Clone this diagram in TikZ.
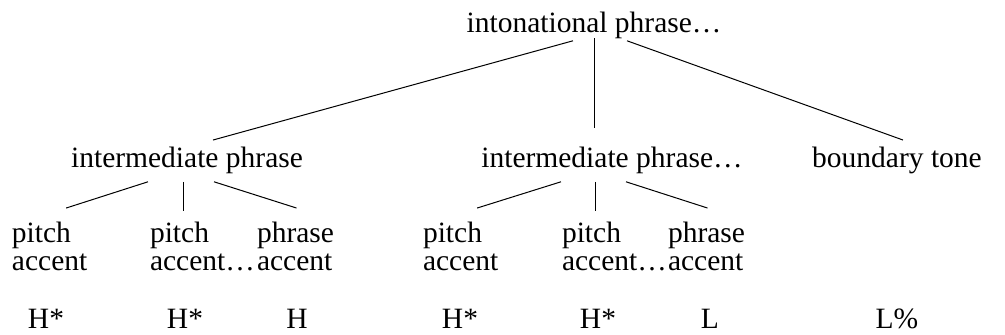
\documentclass[tikz,border=0pt]{standalone}
\usepackage{fontspec}
\setmainfont{Liberation Serif}
\usetikzlibrary{calc}
\begin{document}
\begin{tikzpicture}[x=1pt,y=-1pt,
  lbl/.style={inner sep=0pt,outer sep=0pt,font=\fontsize{29.5}{28}\selectfont},
  two/.style={lbl,align=left,anchor=base west},
  edge/.style={line width=1.0pt}]
\useasboundingbox (0,0) rectangle (1005,335);
% top
\node[lbl,anchor=base] (top) at (594,32) {intonational phrase…};
% second level
\node[lbl,anchor=base] (ipA) at (187,167) {intermediate phrase};
\node[lbl,anchor=base] (ipB) at (612,167) {intermediate phrase…};
\node[lbl,anchor=base] (bt) at (897,167) {boundary tone};
% third level (base = baseline of last line)
\node[two] (pa1) at (12,270) {pitch\\accent};
\node[two] (pa2) at (150,270) {pitch\\accent…};
\node[two] (phA) at (257,270) {phrase\\accent};
\node[two] (pb1) at (423,270) {pitch\\accent};
\node[two] (pb2) at (562,270) {pitch\\accent…};
\node[two] (phB) at (668,270) {phrase\\accent};
% tones
\node[lbl,anchor=base] (t1) at (46,328) {H*};
\node[lbl,anchor=base] (t2) at (185,328) {H*};
\node[lbl,anchor=base] (t3) at (297,328) {H};
\node[lbl,anchor=base] (t4) at (460,328) {H*};
\node[lbl,anchor=base] (t5) at (598,328) {H*};
\node[lbl,anchor=base] (t6) at (710,328) {L};
\node[lbl,anchor=base] (t7) at (897,328) {L\%};
% connector start points
\coordinate (mA) at ($(ipA.south)+(-4,8.5)$);
\coordinate (mB) at ($(ipB.south)+(-17,8.5)$);
\coordinate (mT) at (top.south);
% connectors
\draw[edge] ($(top.south)+(-21,2.5)$) -- ($(ipA.north)+(26,-6.5)$);
\draw[edge] (mT) -- ([yshift=18.5pt]mT |- ipB.north);
\draw[edge] ($(top.south)+(33,2.5)$) -- ($(bt.north)+(6,-6.5)$);
\draw[edge] ($(ipA.south)+(-39,8.5)$) -- ($(pa1.north)+(16.5,-13.5)$);
\draw[edge] (mA) -- ([yshift=10.5pt]mA |- pa2.north);
\draw[edge] ($(ipA.south)+(27,8.5)$) -- ($(phA.north)+(1,-13.5)$);
\draw[edge] ($(ipB.south)+(-51,8.5)$) -- ($(pb1.north)+(16.5,-13.5)$);
\draw[edge] (mB) -- ([yshift=10.5pt]mB |- pb2.north);
\draw[edge] ($(ipB.south)+(14,8.5)$) -- ($(phB.north)+(1,-13.5)$);
\end{tikzpicture}
\end{document}
